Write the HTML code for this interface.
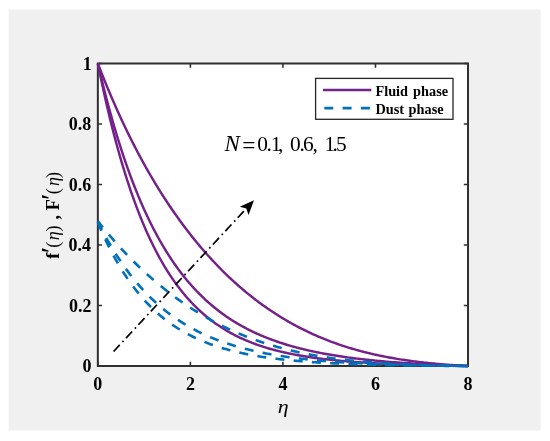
<!DOCTYPE html>
<html><head><meta charset="utf-8"><style>
html,body{margin:0;padding:0;background:#fff;width:550px;height:441px;overflow:hidden}
svg{display:block}
text{font-family:"Liberation Serif","Times New Roman",serif}
</style></head><body>
<svg width="550" height="441" viewBox="0 0 550 441">
<rect x="8.6" y="9.5" width="531.9" height="421.0" fill="#f0f0f0"/>
<rect x="97.85" y="63.50" width="370.16" height="302.50" fill="#fff"/>
<path d="M97.85 366.00V361.80M97.85 63.50V67.70M190.39 366.00V361.80M190.39 63.50V67.70M282.93 366.00V361.80M282.93 63.50V67.70M375.47 366.00V361.80M375.47 63.50V67.70M468.01 366.00V361.80M468.01 63.50V67.70M97.85 366.00H102.05M468.01 366.00H463.81M97.85 305.50H102.05M468.01 305.50H463.81M97.85 245.00H102.05M468.01 245.00H463.81M97.85 184.50H102.05M468.01 184.50H463.81M97.85 124.00H102.05M468.01 124.00H463.81M97.85 63.50H102.05M468.01 63.50H463.81" stroke="#303030" stroke-width="1.6" fill="none"/>
<rect x="97.85" y="63.50" width="370.16" height="302.50" fill="none" stroke="#303030" stroke-width="2.0"/>
<path d="M97.85 63.50 L99.39 71.11 L100.93 78.52 L102.48 85.76 L104.02 92.82 L105.56 99.71 L107.10 106.42 L108.65 112.98 L110.19 119.36 L111.73 125.60 L113.27 131.67 L114.82 137.60 L116.36 143.38 L117.90 149.01 L119.44 154.51 L120.98 159.87 L122.53 165.09 L124.07 170.19 L125.61 175.15 L127.15 180.00 L128.70 184.72 L130.24 189.32 L131.78 193.81 L133.32 198.19 L134.87 202.45 L136.41 206.61 L137.95 210.66 L139.49 214.61 L141.04 218.46 L142.58 222.22 L144.12 225.88 L145.66 229.44 L147.20 232.92 L148.75 236.31 L150.29 239.61 L151.83 242.83 L153.37 245.96 L154.92 249.02 L156.46 252.00 L158.00 254.90 L159.54 257.73 L161.09 260.49 L162.63 263.18 L164.17 265.80 L165.71 268.35 L167.25 270.84 L168.80 273.26 L170.34 275.62 L171.88 277.93 L173.42 280.17 L174.97 282.35 L176.51 284.48 L178.05 286.56 L179.59 288.58 L181.14 290.55 L182.68 292.47 L184.22 294.34 L185.76 296.17 L187.31 297.94 L188.85 299.67 L190.39 301.36 L191.93 303.00 L193.47 304.61 L195.02 306.17 L196.56 307.69 L198.10 309.17 L199.64 310.61 L201.19 312.02 L202.73 313.39 L204.27 314.72 L205.81 316.03 L207.36 317.29 L208.90 318.53 L210.44 319.73 L211.98 320.91 L213.53 322.05 L215.07 323.16 L216.61 324.25 L218.15 325.31 L219.69 326.34 L221.24 327.34 L222.78 328.32 L224.32 329.27 L225.86 330.20 L227.41 331.11 L228.95 331.99 L230.49 332.85 L232.03 333.69 L233.58 334.51 L235.12 335.30 L236.66 336.08 L238.20 336.83 L239.74 337.57 L241.29 338.29 L242.83 338.99 L244.37 339.67 L245.91 340.33 L247.46 340.98 L249.00 341.61 L250.54 342.23 L252.08 342.83 L253.63 343.41 L255.17 343.98 L256.71 344.54 L258.25 345.08 L259.80 345.61 L261.34 346.12 L262.88 346.63 L264.42 347.12 L265.96 347.59 L267.51 348.06 L269.05 348.51 L270.59 348.95 L272.13 349.38 L273.68 349.80 L275.22 350.21 L276.76 350.61 L278.30 351.00 L279.85 351.38 L281.39 351.75 L282.93 352.11 L284.47 352.46 L286.01 352.81 L287.56 353.14 L289.10 353.47 L290.64 353.79 L292.18 354.10 L293.73 354.40 L295.27 354.70 L296.81 354.98 L298.35 355.26 L299.90 355.54 L301.44 355.81 L302.98 356.07 L304.52 356.32 L306.06 356.57 L307.61 356.81 L309.15 357.05 L310.69 357.28 L312.23 357.50 L313.78 357.72 L315.32 357.94 L316.86 358.15 L318.40 358.35 L319.95 358.55 L321.49 358.74 L323.03 358.93 L324.57 359.12 L326.12 359.30 L327.66 359.47 L329.20 359.64 L330.74 359.81 L332.28 359.98 L333.83 360.14 L335.37 360.29 L336.91 360.44 L338.45 360.59 L340.00 360.74 L341.54 360.88 L343.08 361.02 L344.62 361.15 L346.17 361.29 L347.71 361.41 L349.25 361.54 L350.79 361.66 L352.34 361.78 L353.88 361.90 L355.42 362.01 L356.96 362.13 L358.50 362.23 L360.05 362.34 L361.59 362.45 L363.13 362.55 L364.67 362.65 L366.22 362.74 L367.76 362.84 L369.30 362.93 L370.84 363.02 L372.39 363.11 L373.93 363.20 L375.47 363.28 L377.01 363.36 L378.55 363.44 L380.10 363.52 L381.64 363.60 L383.18 363.67 L384.72 363.75 L386.27 363.82 L387.81 363.89 L389.35 363.96 L390.89 364.02 L392.44 364.09 L393.98 364.15 L395.52 364.22 L397.06 364.28 L398.61 364.34 L400.15 364.39 L401.69 364.45 L403.23 364.51 L404.77 364.56 L406.32 364.61 L407.86 364.67 L409.40 364.72 L410.94 364.77 L412.49 364.82 L414.03 364.86 L415.57 364.91 L417.11 364.96 L418.66 365.00 L420.20 365.04 L421.74 365.09 L423.28 365.13 L424.82 365.17 L426.37 365.21 L427.91 365.25 L429.45 365.28 L430.99 365.32 L432.54 365.36 L434.08 365.39 L435.62 365.43 L437.16 365.46 L438.71 365.49 L440.25 365.53 L441.79 365.56 L443.33 365.59 L444.88 365.62 L446.42 365.65 L447.96 365.68 L449.50 365.71 L451.04 365.73 L452.59 365.76 L454.13 365.79 L455.67 365.81 L457.21 365.84 L458.76 365.86 L460.30 365.89 L461.84 365.91 L463.38 365.93 L464.93 365.96 L466.47 365.98 L468.01 366.00" fill="none" stroke="#74218a" stroke-width="2.45" stroke-linejoin="round"/>
<path d="M97.85 63.50 L99.39 70.10 L100.93 76.55 L102.48 82.86 L104.02 89.03 L105.56 95.07 L107.10 100.97 L108.65 106.74 L110.19 112.38 L111.73 117.90 L113.27 123.30 L114.82 128.58 L116.36 133.74 L117.90 138.78 L119.44 143.72 L120.98 148.55 L122.53 153.26 L124.07 157.88 L125.61 162.39 L127.15 166.81 L128.70 171.12 L130.24 175.34 L131.78 179.47 L133.32 183.51 L134.87 187.46 L136.41 191.32 L137.95 195.10 L139.49 198.79 L141.04 202.40 L142.58 205.93 L144.12 209.39 L145.66 212.76 L147.20 216.07 L148.75 219.30 L150.29 222.46 L151.83 225.55 L153.37 228.57 L154.92 231.53 L156.46 234.42 L158.00 237.25 L159.54 240.02 L161.09 242.73 L162.63 245.37 L164.17 247.96 L165.71 250.49 L167.25 252.97 L168.80 255.39 L170.34 257.76 L171.88 260.08 L173.42 262.35 L174.97 264.57 L176.51 266.74 L178.05 268.86 L179.59 270.94 L181.14 272.97 L182.68 274.95 L184.22 276.90 L185.76 278.80 L187.31 280.66 L188.85 282.48 L190.39 284.26 L191.93 286.00 L193.47 287.71 L195.02 289.37 L196.56 291.01 L198.10 292.60 L199.64 294.16 L201.19 295.69 L202.73 297.19 L204.27 298.65 L205.81 300.08 L207.36 301.48 L208.90 302.86 L210.44 304.20 L211.98 305.51 L213.53 306.79 L215.07 308.05 L216.61 309.28 L218.15 310.49 L219.69 311.66 L221.24 312.82 L222.78 313.94 L224.32 315.05 L225.86 316.13 L227.41 317.19 L228.95 318.22 L230.49 319.24 L232.03 320.23 L233.58 321.20 L235.12 322.15 L236.66 323.08 L238.20 323.99 L239.74 324.88 L241.29 325.76 L242.83 326.61 L244.37 327.45 L245.91 328.27 L247.46 329.07 L249.00 329.85 L250.54 330.62 L252.08 331.38 L253.63 332.11 L255.17 332.83 L256.71 333.54 L258.25 334.23 L259.80 334.91 L261.34 335.57 L262.88 336.22 L264.42 336.86 L265.96 337.48 L267.51 338.09 L269.05 338.69 L270.59 339.27 L272.13 339.85 L273.68 340.41 L275.22 340.96 L276.76 341.49 L278.30 342.02 L279.85 342.54 L281.39 343.04 L282.93 343.54 L284.47 344.03 L286.01 344.50 L287.56 344.97 L289.10 345.42 L290.64 345.87 L292.18 346.31 L293.73 346.74 L295.27 347.16 L296.81 347.57 L298.35 347.97 L299.90 348.37 L301.44 348.76 L302.98 349.14 L304.52 349.51 L306.06 349.87 L307.61 350.23 L309.15 350.58 L310.69 350.93 L312.23 351.26 L313.78 351.59 L315.32 351.92 L316.86 352.23 L318.40 352.54 L319.95 352.85 L321.49 353.15 L323.03 353.44 L324.57 353.72 L326.12 354.01 L327.66 354.28 L329.20 354.55 L330.74 354.82 L332.28 355.08 L333.83 355.33 L335.37 355.58 L336.91 355.82 L338.45 356.06 L340.00 356.30 L341.54 356.53 L343.08 356.76 L344.62 356.98 L346.17 357.20 L347.71 357.41 L349.25 357.62 L350.79 357.82 L352.34 358.02 L353.88 358.22 L355.42 358.42 L356.96 358.61 L358.50 358.79 L360.05 358.97 L361.59 359.15 L363.13 359.33 L364.67 359.50 L366.22 359.67 L367.76 359.84 L369.30 360.00 L370.84 360.16 L372.39 360.32 L373.93 360.47 L375.47 360.62 L377.01 360.77 L378.55 360.91 L380.10 361.06 L381.64 361.20 L383.18 361.33 L384.72 361.47 L386.27 361.60 L387.81 361.73 L389.35 361.86 L390.89 361.98 L392.44 362.10 L393.98 362.22 L395.52 362.34 L397.06 362.46 L398.61 362.57 L400.15 362.68 L401.69 362.79 L403.23 362.90 L404.77 363.00 L406.32 363.11 L407.86 363.21 L409.40 363.31 L410.94 363.41 L412.49 363.50 L414.03 363.60 L415.57 363.69 L417.11 363.78 L418.66 363.87 L420.20 363.96 L421.74 364.04 L423.28 364.13 L424.82 364.21 L426.37 364.29 L427.91 364.37 L429.45 364.45 L430.99 364.53 L432.54 364.60 L434.08 364.67 L435.62 364.75 L437.16 364.82 L438.71 364.89 L440.25 364.96 L441.79 365.03 L443.33 365.09 L444.88 365.16 L446.42 365.22 L447.96 365.28 L449.50 365.34 L451.04 365.41 L452.59 365.46 L454.13 365.52 L455.67 365.58 L457.21 365.64 L458.76 365.69 L460.30 365.74 L461.84 365.80 L463.38 365.85 L464.93 365.90 L466.47 365.95 L468.01 366.00" fill="none" stroke="#74218a" stroke-width="2.45" stroke-linejoin="round"/>
<path d="M97.85 63.50 L99.39 67.50 L100.93 71.44 L102.48 75.34 L104.02 79.18 L105.56 82.98 L107.10 86.73 L108.65 90.43 L110.19 94.09 L111.73 97.70 L113.27 101.26 L114.82 104.78 L116.36 108.26 L117.90 111.70 L119.44 115.09 L120.98 118.44 L122.53 121.75 L124.07 125.02 L125.61 128.25 L127.15 131.44 L128.70 134.60 L130.24 137.71 L131.78 140.79 L133.32 143.83 L134.87 146.83 L136.41 149.80 L137.95 152.74 L139.49 155.63 L141.04 158.50 L142.58 161.33 L144.12 164.13 L145.66 166.89 L147.20 169.62 L148.75 172.32 L150.29 174.99 L151.83 177.63 L153.37 180.24 L154.92 182.81 L156.46 185.36 L158.00 187.88 L159.54 190.36 L161.09 192.82 L162.63 195.25 L164.17 197.66 L165.71 200.03 L167.25 202.38 L168.80 204.70 L170.34 206.99 L171.88 209.26 L173.42 211.50 L174.97 213.72 L176.51 215.91 L178.05 218.07 L179.59 220.21 L181.14 222.32 L182.68 224.42 L184.22 226.48 L185.76 228.53 L187.31 230.54 L188.85 232.54 L190.39 234.51 L191.93 236.47 L193.47 238.39 L195.02 240.30 L196.56 242.18 L198.10 244.05 L199.64 245.89 L201.19 247.70 L202.73 249.50 L204.27 251.28 L205.81 253.04 L207.36 254.77 L208.90 256.49 L210.44 258.18 L211.98 259.86 L213.53 261.52 L215.07 263.15 L216.61 264.77 L218.15 266.37 L219.69 267.95 L221.24 269.51 L222.78 271.05 L224.32 272.58 L225.86 274.08 L227.41 275.57 L228.95 277.04 L230.49 278.49 L232.03 279.93 L233.58 281.34 L235.12 282.74 L236.66 284.13 L238.20 285.49 L239.74 286.84 L241.29 288.18 L242.83 289.49 L244.37 290.79 L245.91 292.08 L247.46 293.34 L249.00 294.60 L250.54 295.83 L252.08 297.05 L253.63 298.26 L255.17 299.45 L256.71 300.62 L258.25 301.78 L259.80 302.93 L261.34 304.06 L262.88 305.17 L264.42 306.27 L265.96 307.36 L267.51 308.43 L269.05 309.49 L270.59 310.53 L272.13 311.56 L273.68 312.58 L275.22 313.58 L276.76 314.57 L278.30 315.54 L279.85 316.51 L281.39 317.46 L282.93 318.39 L284.47 319.31 L286.01 320.22 L287.56 321.12 L289.10 322.01 L290.64 322.88 L292.18 323.74 L293.73 324.58 L295.27 325.42 L296.81 326.24 L298.35 327.05 L299.90 327.85 L301.44 328.64 L302.98 329.42 L304.52 330.18 L306.06 330.93 L307.61 331.68 L309.15 332.41 L310.69 333.13 L312.23 333.83 L313.78 334.53 L315.32 335.22 L316.86 335.89 L318.40 336.56 L319.95 337.22 L321.49 337.86 L323.03 338.49 L324.57 339.12 L326.12 339.73 L327.66 340.34 L329.20 340.93 L330.74 341.52 L332.28 342.09 L333.83 342.66 L335.37 343.21 L336.91 343.76 L338.45 344.30 L340.00 344.83 L341.54 345.35 L343.08 345.86 L344.62 346.36 L346.17 346.85 L347.71 347.33 L349.25 347.81 L350.79 348.28 L352.34 348.74 L353.88 349.19 L355.42 349.63 L356.96 350.06 L358.50 350.49 L360.05 350.91 L361.59 351.32 L363.13 351.72 L364.67 352.12 L366.22 352.51 L367.76 352.89 L369.30 353.26 L370.84 353.63 L372.39 353.99 L373.93 354.34 L375.47 354.69 L377.01 355.03 L378.55 355.36 L380.10 355.68 L381.64 356.00 L383.18 356.31 L384.72 356.62 L386.27 356.92 L387.81 357.21 L389.35 357.50 L390.89 357.78 L392.44 358.06 L393.98 358.33 L395.52 358.59 L397.06 358.85 L398.61 359.10 L400.15 359.35 L401.69 359.59 L403.23 359.83 L404.77 360.06 L406.32 360.29 L407.86 360.51 L409.40 360.72 L410.94 360.94 L412.49 361.14 L414.03 361.34 L415.57 361.54 L417.11 361.73 L418.66 361.92 L420.20 362.11 L421.74 362.28 L423.28 362.46 L424.82 362.63 L426.37 362.80 L427.91 362.96 L429.45 363.12 L430.99 363.27 L432.54 363.42 L434.08 363.57 L435.62 363.72 L437.16 363.86 L438.71 363.99 L440.25 364.13 L441.79 364.26 L443.33 364.38 L444.88 364.50 L446.42 364.62 L447.96 364.74 L449.50 364.85 L451.04 364.97 L452.59 365.07 L454.13 365.18 L455.67 365.28 L457.21 365.38 L458.76 365.48 L460.30 365.57 L461.84 365.66 L463.38 365.75 L464.93 365.83 L466.47 365.92 L468.01 366.00" fill="none" stroke="#74218a" stroke-width="2.45" stroke-linejoin="round"/>
<path d="M97.85 222.50 L99.39 226.15 L100.93 229.72 L102.48 233.19 L104.02 236.57 L105.56 239.87 L107.10 243.09 L108.65 246.22 L110.19 249.27 L111.73 252.24 L113.27 255.14 L114.82 257.97 L116.36 260.72 L117.90 263.40 L119.44 266.02 L120.98 268.57 L122.53 271.05 L124.07 273.47 L125.61 275.83 L127.15 278.12 L128.70 280.36 L130.24 282.54 L131.78 284.67 L133.32 286.74 L134.87 288.76 L136.41 290.73 L137.95 292.65 L139.49 294.51 L141.04 296.33 L142.58 298.11 L144.12 299.84 L145.66 301.52 L147.20 303.16 L148.75 304.77 L150.29 306.32 L151.83 307.84 L153.37 309.32 L154.92 310.77 L156.46 312.17 L158.00 313.54 L159.54 314.88 L161.09 316.18 L162.63 317.45 L164.17 318.68 L165.71 319.89 L167.25 321.06 L168.80 322.21 L170.34 323.32 L171.88 324.41 L173.42 325.46 L174.97 326.50 L176.51 327.50 L178.05 328.48 L179.59 329.43 L181.14 330.36 L182.68 331.27 L184.22 332.15 L185.76 333.01 L187.31 333.85 L188.85 334.67 L190.39 335.47 L191.93 336.24 L193.47 337.00 L195.02 337.74 L196.56 338.46 L198.10 339.16 L199.64 339.84 L201.19 340.51 L202.73 341.15 L204.27 341.79 L205.81 342.40 L207.36 343.00 L208.90 343.59 L210.44 344.16 L211.98 344.71 L213.53 345.25 L215.07 345.78 L216.61 346.30 L218.15 346.80 L219.69 347.28 L221.24 347.76 L222.78 348.23 L224.32 348.68 L225.86 349.12 L227.41 349.55 L228.95 349.97 L230.49 350.38 L232.03 350.77 L233.58 351.16 L235.12 351.54 L236.66 351.91 L238.20 352.27 L239.74 352.62 L241.29 352.96 L242.83 353.29 L244.37 353.61 L245.91 353.93 L247.46 354.24 L249.00 354.54 L250.54 354.83 L252.08 355.12 L253.63 355.39 L255.17 355.67 L256.71 355.93 L258.25 356.19 L259.80 356.44 L261.34 356.68 L262.88 356.92 L264.42 357.16 L265.96 357.38 L267.51 357.60 L269.05 357.82 L270.59 358.03 L272.13 358.23 L273.68 358.43 L275.22 358.63 L276.76 358.82 L278.30 359.00 L279.85 359.18 L281.39 359.36 L282.93 359.53 L284.47 359.70 L286.01 359.86 L287.56 360.02 L289.10 360.18 L290.64 360.33 L292.18 360.47 L293.73 360.62 L295.27 360.76 L296.81 360.90 L298.35 361.03 L299.90 361.16 L301.44 361.29 L302.98 361.41 L304.52 361.53 L306.06 361.65 L307.61 361.76 L309.15 361.87 L310.69 361.98 L312.23 362.09 L313.78 362.19 L315.32 362.29 L316.86 362.39 L318.40 362.49 L319.95 362.58 L321.49 362.67 L323.03 362.76 L324.57 362.85 L326.12 362.94 L327.66 363.02 L329.20 363.10 L330.74 363.18 L332.28 363.25 L333.83 363.33 L335.37 363.40 L336.91 363.47 L338.45 363.54 L340.00 363.61 L341.54 363.68 L343.08 363.74 L344.62 363.81 L346.17 363.87 L347.71 363.93 L349.25 363.99 L350.79 364.04 L352.34 364.10 L353.88 364.15 L355.42 364.21 L356.96 364.26 L358.50 364.31 L360.05 364.36 L361.59 364.41 L363.13 364.45 L364.67 364.50 L366.22 364.54 L367.76 364.59 L369.30 364.63 L370.84 364.67 L372.39 364.71 L373.93 364.75 L375.47 364.79 L377.01 364.83 L378.55 364.86 L380.10 364.90 L381.64 364.93 L383.18 364.97 L384.72 365.00 L386.27 365.03 L387.81 365.07 L389.35 365.10 L390.89 365.13 L392.44 365.16 L393.98 365.19 L395.52 365.21 L397.06 365.24 L398.61 365.27 L400.15 365.29 L401.69 365.32 L403.23 365.34 L404.77 365.37 L406.32 365.39 L407.86 365.42 L409.40 365.44 L410.94 365.46 L412.49 365.48 L414.03 365.50 L415.57 365.52 L417.11 365.54 L418.66 365.56 L420.20 365.58 L421.74 365.60 L423.28 365.62 L424.82 365.64 L426.37 365.66 L427.91 365.67 L429.45 365.69 L430.99 365.71 L432.54 365.72 L434.08 365.74 L435.62 365.75 L437.16 365.77 L438.71 365.78 L440.25 365.79 L441.79 365.81 L443.33 365.82 L444.88 365.84 L446.42 365.85 L447.96 365.86 L449.50 365.87 L451.04 365.89 L452.59 365.90 L454.13 365.91 L455.67 365.92 L457.21 365.93 L458.76 365.94 L460.30 365.95 L461.84 365.96 L463.38 365.97 L464.93 365.98 L466.47 365.99 L468.01 366.00" fill="none" stroke="#0070bb" stroke-width="2.6" stroke-dasharray="9 9.3" stroke-dashoffset="0"/>
<path d="M97.85 221.75 L99.39 224.84 L100.93 227.87 L102.48 230.83 L104.02 233.73 L105.56 236.57 L107.10 239.35 L108.65 242.07 L110.19 244.73 L111.73 247.34 L113.27 249.90 L114.82 252.39 L116.36 254.84 L117.90 257.24 L119.44 259.58 L120.98 261.88 L122.53 264.13 L124.07 266.33 L125.61 268.48 L127.15 270.59 L128.70 272.65 L130.24 274.67 L131.78 276.65 L133.32 278.59 L134.87 280.48 L136.41 282.33 L137.95 284.15 L139.49 285.93 L141.04 287.67 L142.58 289.37 L144.12 291.03 L145.66 292.67 L147.20 294.26 L148.75 295.82 L150.29 297.35 L151.83 298.85 L153.37 300.31 L154.92 301.75 L156.46 303.15 L158.00 304.52 L159.54 305.87 L161.09 307.18 L162.63 308.47 L164.17 309.73 L165.71 310.96 L167.25 312.17 L168.80 313.35 L170.34 314.51 L171.88 315.64 L173.42 316.74 L174.97 317.83 L176.51 318.89 L178.05 319.92 L179.59 320.94 L181.14 321.93 L182.68 322.90 L184.22 323.85 L185.76 324.78 L187.31 325.69 L188.85 326.59 L190.39 327.46 L191.93 328.31 L193.47 329.14 L195.02 329.96 L196.56 330.76 L198.10 331.54 L199.64 332.31 L201.19 333.06 L202.73 333.79 L204.27 334.51 L205.81 335.21 L207.36 335.89 L208.90 336.57 L210.44 337.22 L211.98 337.87 L213.53 338.49 L215.07 339.11 L216.61 339.71 L218.15 340.30 L219.69 340.88 L221.24 341.44 L222.78 341.99 L224.32 342.53 L225.86 343.06 L227.41 343.58 L228.95 344.08 L230.49 344.58 L232.03 345.06 L233.58 345.53 L235.12 346.00 L236.66 346.45 L238.20 346.89 L239.74 347.33 L241.29 347.75 L242.83 348.17 L244.37 348.57 L245.91 348.97 L247.46 349.36 L249.00 349.74 L250.54 350.11 L252.08 350.47 L253.63 350.83 L255.17 351.18 L256.71 351.52 L258.25 351.85 L259.80 352.17 L261.34 352.49 L262.88 352.81 L264.42 353.11 L265.96 353.41 L267.51 353.70 L269.05 353.99 L270.59 354.26 L272.13 354.54 L273.68 354.81 L275.22 355.07 L276.76 355.32 L278.30 355.57 L279.85 355.82 L281.39 356.06 L282.93 356.29 L284.47 356.52 L286.01 356.74 L287.56 356.96 L289.10 357.18 L290.64 357.39 L292.18 357.59 L293.73 357.79 L295.27 357.99 L296.81 358.18 L298.35 358.37 L299.90 358.55 L301.44 358.73 L302.98 358.90 L304.52 359.08 L306.06 359.24 L307.61 359.41 L309.15 359.57 L310.69 359.73 L312.23 359.88 L313.78 360.03 L315.32 360.18 L316.86 360.32 L318.40 360.46 L319.95 360.60 L321.49 360.73 L323.03 360.87 L324.57 360.99 L326.12 361.12 L327.66 361.24 L329.20 361.36 L330.74 361.48 L332.28 361.60 L333.83 361.71 L335.37 361.82 L336.91 361.93 L338.45 362.03 L340.00 362.14 L341.54 362.24 L343.08 362.34 L344.62 362.43 L346.17 362.53 L347.71 362.62 L349.25 362.71 L350.79 362.80 L352.34 362.88 L353.88 362.97 L355.42 363.05 L356.96 363.13 L358.50 363.21 L360.05 363.29 L361.59 363.36 L363.13 363.44 L364.67 363.51 L366.22 363.58 L367.76 363.65 L369.30 363.72 L370.84 363.78 L372.39 363.85 L373.93 363.91 L375.47 363.97 L377.01 364.03 L378.55 364.09 L380.10 364.15 L381.64 364.21 L383.18 364.26 L384.72 364.32 L386.27 364.37 L387.81 364.42 L389.35 364.47 L390.89 364.52 L392.44 364.57 L393.98 364.62 L395.52 364.66 L397.06 364.71 L398.61 364.75 L400.15 364.80 L401.69 364.84 L403.23 364.88 L404.77 364.92 L406.32 364.96 L407.86 365.00 L409.40 365.04 L410.94 365.07 L412.49 365.11 L414.03 365.15 L415.57 365.18 L417.11 365.21 L418.66 365.25 L420.20 365.28 L421.74 365.31 L423.28 365.34 L424.82 365.37 L426.37 365.40 L427.91 365.43 L429.45 365.46 L430.99 365.49 L432.54 365.52 L434.08 365.54 L435.62 365.57 L437.16 365.59 L438.71 365.62 L440.25 365.64 L441.79 365.67 L443.33 365.69 L444.88 365.71 L446.42 365.74 L447.96 365.76 L449.50 365.78 L451.04 365.80 L452.59 365.82 L454.13 365.84 L455.67 365.86 L457.21 365.88 L458.76 365.90 L460.30 365.91 L461.84 365.93 L463.38 365.95 L464.93 365.97 L466.47 365.98 L468.01 366.00" fill="none" stroke="#0070bb" stroke-width="2.6" stroke-dasharray="9 9.3" stroke-dashoffset="0"/>
<path d="M97.85 221.18 L99.39 223.12 L100.93 225.04 L102.48 226.95 L104.02 228.83 L105.56 230.70 L107.10 232.55 L108.65 234.37 L110.19 236.18 L111.73 237.97 L113.27 239.75 L114.82 241.50 L116.36 243.24 L117.90 244.96 L119.44 246.66 L120.98 248.34 L122.53 250.01 L124.07 251.65 L125.61 253.29 L127.15 254.90 L128.70 256.50 L130.24 258.08 L131.78 259.64 L133.32 261.19 L134.87 262.72 L136.41 264.23 L137.95 265.73 L139.49 267.21 L141.04 268.68 L142.58 270.13 L144.12 271.56 L145.66 272.98 L147.20 274.38 L148.75 275.77 L150.29 277.14 L151.83 278.50 L153.37 279.84 L154.92 281.16 L156.46 282.48 L158.00 283.77 L159.54 285.05 L161.09 286.32 L162.63 287.57 L164.17 288.81 L165.71 290.04 L167.25 291.25 L168.80 292.44 L170.34 293.62 L171.88 294.79 L173.42 295.95 L174.97 297.09 L176.51 298.21 L178.05 299.33 L179.59 300.43 L181.14 301.51 L182.68 302.59 L184.22 303.65 L185.76 304.70 L187.31 305.73 L188.85 306.75 L190.39 307.76 L191.93 308.76 L193.47 309.74 L195.02 310.71 L196.56 311.67 L198.10 312.62 L199.64 313.55 L201.19 314.47 L202.73 315.38 L204.27 316.28 L205.81 317.17 L207.36 318.04 L208.90 318.91 L210.44 319.76 L211.98 320.60 L213.53 321.43 L215.07 322.24 L216.61 323.05 L218.15 323.85 L219.69 324.63 L221.24 325.40 L222.78 326.17 L224.32 326.92 L225.86 327.66 L227.41 328.39 L228.95 329.11 L230.49 329.82 L232.03 330.52 L233.58 331.21 L235.12 331.89 L236.66 332.56 L238.20 333.22 L239.74 333.87 L241.29 334.51 L242.83 335.14 L244.37 335.76 L245.91 336.37 L247.46 336.97 L249.00 337.56 L250.54 338.15 L252.08 338.72 L253.63 339.29 L255.17 339.84 L256.71 340.39 L258.25 340.93 L259.80 341.46 L261.34 341.98 L262.88 342.49 L264.42 343.00 L265.96 343.49 L267.51 343.98 L269.05 344.46 L270.59 344.93 L272.13 345.40 L273.68 345.86 L275.22 346.30 L276.76 346.74 L278.30 347.18 L279.85 347.60 L281.39 348.02 L282.93 348.43 L284.47 348.84 L286.01 349.23 L287.56 349.62 L289.10 350.00 L290.64 350.38 L292.18 350.75 L293.73 351.11 L295.27 351.47 L296.81 351.81 L298.35 352.16 L299.90 352.49 L301.44 352.82 L302.98 353.14 L304.52 353.46 L306.06 353.77 L307.61 354.08 L309.15 354.38 L310.69 354.67 L312.23 354.96 L313.78 355.24 L315.32 355.51 L316.86 355.78 L318.40 356.05 L319.95 356.31 L321.49 356.56 L323.03 356.81 L324.57 357.06 L326.12 357.30 L327.66 357.53 L329.20 357.76 L330.74 357.98 L332.28 358.20 L333.83 358.42 L335.37 358.63 L336.91 358.83 L338.45 359.04 L340.00 359.23 L341.54 359.43 L343.08 359.61 L344.62 359.80 L346.17 359.98 L347.71 360.15 L349.25 360.33 L350.79 360.49 L352.34 360.66 L353.88 360.82 L355.42 360.98 L356.96 361.13 L358.50 361.28 L360.05 361.43 L361.59 361.57 L363.13 361.71 L364.67 361.84 L366.22 361.98 L367.76 362.11 L369.30 362.23 L370.84 362.35 L372.39 362.48 L373.93 362.59 L375.47 362.71 L377.01 362.82 L378.55 362.93 L380.10 363.03 L381.64 363.14 L383.18 363.24 L384.72 363.33 L386.27 363.43 L387.81 363.52 L389.35 363.61 L390.89 363.70 L392.44 363.79 L393.98 363.87 L395.52 363.95 L397.06 364.03 L398.61 364.11 L400.15 364.18 L401.69 364.26 L403.23 364.33 L404.77 364.40 L406.32 364.46 L407.86 364.53 L409.40 364.59 L410.94 364.65 L412.49 364.71 L414.03 364.77 L415.57 364.83 L417.11 364.88 L418.66 364.94 L420.20 364.99 L421.74 365.04 L423.28 365.09 L424.82 365.13 L426.37 365.18 L427.91 365.22 L429.45 365.27 L430.99 365.31 L432.54 365.35 L434.08 365.39 L435.62 365.43 L437.16 365.46 L438.71 365.50 L440.25 365.53 L441.79 365.57 L443.33 365.60 L444.88 365.63 L446.42 365.66 L447.96 365.69 L449.50 365.72 L451.04 365.75 L452.59 365.78 L454.13 365.80 L455.67 365.83 L457.21 365.85 L458.76 365.87 L460.30 365.90 L461.84 365.92 L463.38 365.94 L464.93 365.96 L466.47 365.98 L468.01 366.00" fill="none" stroke="#0070bb" stroke-width="2.6" stroke-dasharray="9 9.3" stroke-dashoffset="1.0"/>
<path d="M113.6 351.5L247.10 207.64" stroke="#000" stroke-width="1.7" fill="none" stroke-dasharray="9 4 1.6 3.65"/>
<path transform="translate(254.0,200.2) rotate(-47.14)" d="M0 0L-14.5 -6.0L-11.3 0L-14.5 6.0Z" fill="#000"/>
<g font-weight="bold" font-size="18.6" fill="#000">
<text transform="translate(93.34 390.10) scale(0.970 1)" x="0" y="0">0</text>
<text transform="translate(185.89 390.10) scale(0.970 1)" x="0" y="0">2</text>
<text transform="translate(278.46 390.10) scale(0.970 1)" x="0" y="0">4</text>
<text transform="translate(370.92 390.10) scale(0.970 1)" x="0" y="0">6</text>
<text transform="translate(463.50 390.10) scale(0.970 1)" x="0" y="0">8</text>
<text transform="translate(82.47 372.40) scale(0.970 1)" x="0" y="0">0</text>
<text transform="translate(69.02 311.90) scale(0.970 1)" x="0" y="0">0.2</text>
<text transform="translate(68.58 251.40) scale(0.970 1)" x="0" y="0">0.4</text>
<text transform="translate(68.78 190.90) scale(0.970 1)" x="0" y="0">0.6</text>
<text transform="translate(68.85 130.40) scale(0.970 1)" x="0" y="0">0.8</text>
<text transform="translate(82.71 69.90) scale(0.970 1)" x="0" y="0">1</text>
</g>
<text transform="translate(277.82 412.60) scale(1.220 1)" font-style="italic" font-size="18">η</text>
<g transform="translate(59.3,258.6) rotate(-90)">
<text x="-0.13" y="0.00" font-size="18" font-weight="bold">f</text>
<text x="5.52" y="0.80" font-size="28" >′</text>
<text x="10.91" y="0.00" font-size="18" >(</text>
<text x="18.26" y="0.00" font-size="18" font-style="italic">η</text>
<text x="27.12" y="0.00" font-size="18" >)</text>
<text x="39.16" y="0.00" font-size="18" font-weight="bold">,</text>
<text x="48.39" y="0.00" font-size="18" font-weight="bold">F</text>
<text x="58.92" y="0.80" font-size="28" >′</text>
<text x="64.41" y="0.00" font-size="18" >(</text>
<text x="72.66" y="0.00" font-size="18" font-style="italic">η</text>
<text x="80.52" y="0.00" font-size="18" >)</text>
</g>
<text x="224.57" y="150.60" font-style="italic" font-size="23">N</text>
<text transform="translate(242.13 152.85) scale(1.020 1.000)" font-size="23">=</text>
<text x="257.18 266.49 270.72 277.98 290.08 299.59 302.98 312.58 324.42 332.49 335.96" y="150.60" font-size="21.4">0.1,0.6,1.5</text>
<rect x="315.6" y="78.4" width="137.40" height="40.90" fill="#fff" stroke="#262626" stroke-width="1.3"/>
<path d="M323 89.95H371.3" stroke="#74218a" stroke-width="2.45"/>
<path d="M324.3 108.1H371.3" stroke="#0070bb" stroke-width="2.6" stroke-dasharray="9 9.3"/>
<g font-weight="bold" font-size="14.3" fill="#000">

<text x="375.46" y="95.90">Fluid</text>
<text x="413.12" y="95.90">phase</text>
<text x="375.45" y="113.90">Dust</text>
<text x="408.62" y="113.90">phase</text>
</g>
</svg>
</body></html>
